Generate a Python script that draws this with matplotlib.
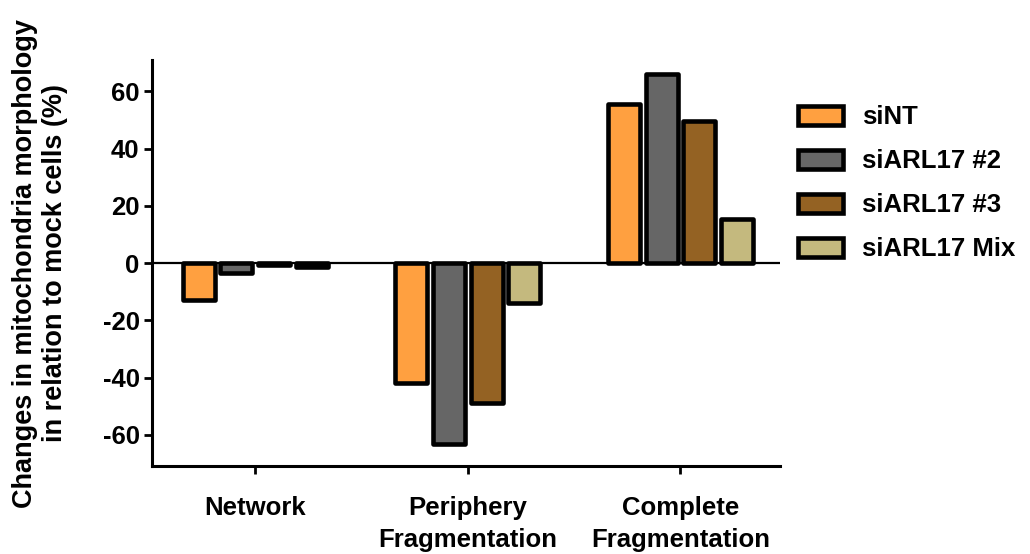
import numpy as np
import matplotlib.pyplot as plt

plt.rcParams['font.family'] = ['Liberation Sans', 'DejaVu Sans']
plt.rcParams['font.weight'] = 'bold'

categories = ['Network', 'Periphery\nFragmentation', 'Complete\nFragmentation']
series = ['siNT', 'siARL17 #2', 'siARL17 #3', 'siARL17 Mix']
si_nt = [-13, -42, 55.5]
si_arl17_2 = [-3.5, -63, 66]
si_arl17_3 = [-0.5, -49, 49.5]
si_arl17_mix = [-1.5, -14, 15.5]
colors = ['#FFA040', '#666666', '#946223', '#C4B97E']

values = [si_nt, si_arl17_2, si_arl17_3, si_arl17_mix]

fig = plt.figure(figsize=(10.3, 5.54), dpi=100)
ax = fig.add_axes([0.1476, 0.158, 0.61, 0.734])

pos = np.arange(len(categories))
pitch = 0.177
width = 0.15
for i, (vals, name, c) in enumerate(zip(values, series, colors)):
    ax.bar(pos + (i - 1.5) * pitch, vals, width, color=c, edgecolor='black',
           linewidth=3.3, label=name, joinstyle='round')

ax.axhline(0, color='black', lw=1.6, zorder=0.5)
ax.set_xlim(-0.485, 2.47)
ax.set_ylim(-71, 71)
ax.set_yticks([-60, -40, -20, 0, 20, 40, 60])
ax.set_yticklabels(['-60', '-40', '-20', '0', '20', '40', '60'])
ax.set_xticks(pos)
ax.set_xticklabels(categories, fontsize=18.5, fontweight='bold', linespacing=1.45)
ax.tick_params(axis='y', labelsize=18.5, width=2, length=6, pad=3)
ax.tick_params(axis='x', width=2, length=6, pad=15)
for lbl in ax.get_yticklabels():
    lbl.set_fontweight('bold')

for s in ['top', 'right']:
    ax.spines[s].set_visible(False)
for s in ['left', 'bottom']:
    ax.spines[s].set_linewidth(2.2)

ax.set_ylabel('Changes in mitochondria morphology\nin relation to mock cells (%)',
              fontsize=19.5, fontweight='bold', labelpad=25, linespacing=1.2)

leg = fig.legend(loc='upper left', bbox_to_anchor=(0.752, 0.852), frameon=False,
                 fontsize=18.5, handlelength=1.75, handleheight=0.75,
                 labelspacing=0.78, handletextpad=0.75)
for t in leg.get_texts():
    t.set_fontweight('bold')

fig.savefig('out.png', dpi=100)
